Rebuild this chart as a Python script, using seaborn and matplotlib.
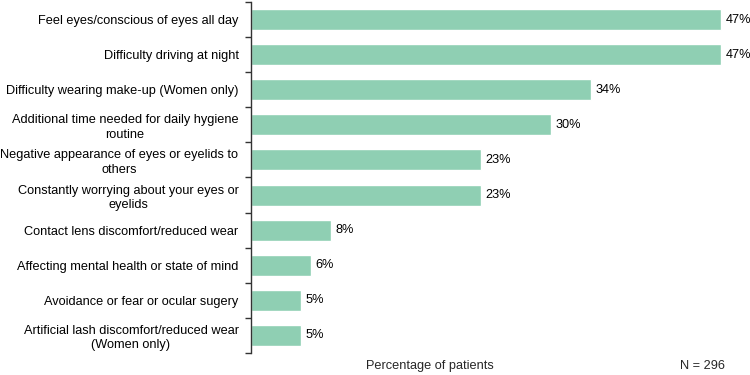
import seaborn as sns
import matplotlib.pyplot as plt
import numpy as np
import pandas as pd

# Chart data
labels = [
    "Feel eyes/conscious of eyes all day",
    "Difficulty driving at night",
    "Difficulty wearing make-up (Women only)",
    "Additional time needed for daily hygiene\nroutine",
    "Negative appearance of eyes or eyelids to\nothers",
    "Constantly worrying about your eyes or\neyelids",
    "Contact lens discomfort/reduced wear",
    "Affecting mental health or state of mind",
    "Avoidance or fear or ocular sugery",
    "Artificial lash discomfort/reduced wear\n(Women only)",
]
values = [47, 47, 34, 30, 23, 23, 8, 6, 5, 5]
x_label = "Percentage of patients"
n_note = "N = 296"

df = pd.DataFrame({"issue": labels, "pct": values})

sns.set_style("white")
plt.rcParams['font.family'] = ['Liberation Sans', 'DejaVu Sans']
fs = 9.2

fig = plt.figure(figsize=(7.5, 3.75), dpi=100)
ax = fig.add_axes([251 / 750, 1 - 353 / 375, 1 - 251 / 750, 351 / 375])

sns.barplot(data=df, x="pct", y="issue", orient="h", color="#8fcfb3",
            saturation=1, width=0.6, ax=ax)

ax.set_xlim(0, 49.9)
ax.set_ylim(len(labels) - 0.5, -0.5)

# value labels
for i, v in enumerate(values):
    ax.text(v + 0.45, i, f"{v}%", va="center", ha="left", fontsize=fs, color="black")

# axes styling
for s in ["top", "right", "bottom"]:
    ax.spines[s].set_visible(False)
ax.spines["left"].set_color("#333333")
ax.spines["left"].set_linewidth(1.0)
ax.set_xticks([])
ax.set_xlabel("")
ax.set_ylabel("")
ax.tick_params(axis="y", which="major", left=False, length=0, pad=9,
               labelsize=fs, labelcolor="black")
ax.set_yticks(np.arange(-0.5, len(labels), 1), minor=True)
ax.tick_params(axis="y", which="minor", left=True, length=4, width=1.0,
               color="#333333", direction="out")
for t in ax.get_yticklabels():
    t.set_multialignment("center")
    t.set_linespacing(1.25)

fig.text(430 / 750, 1 - 366 / 375, x_label, ha="center", va="center", fontsize=fs)
fig.text(702 / 750, 1 - 366 / 375, n_note, ha="center", va="center", fontsize=fs)

fig.savefig("out.png", dpi=100)
